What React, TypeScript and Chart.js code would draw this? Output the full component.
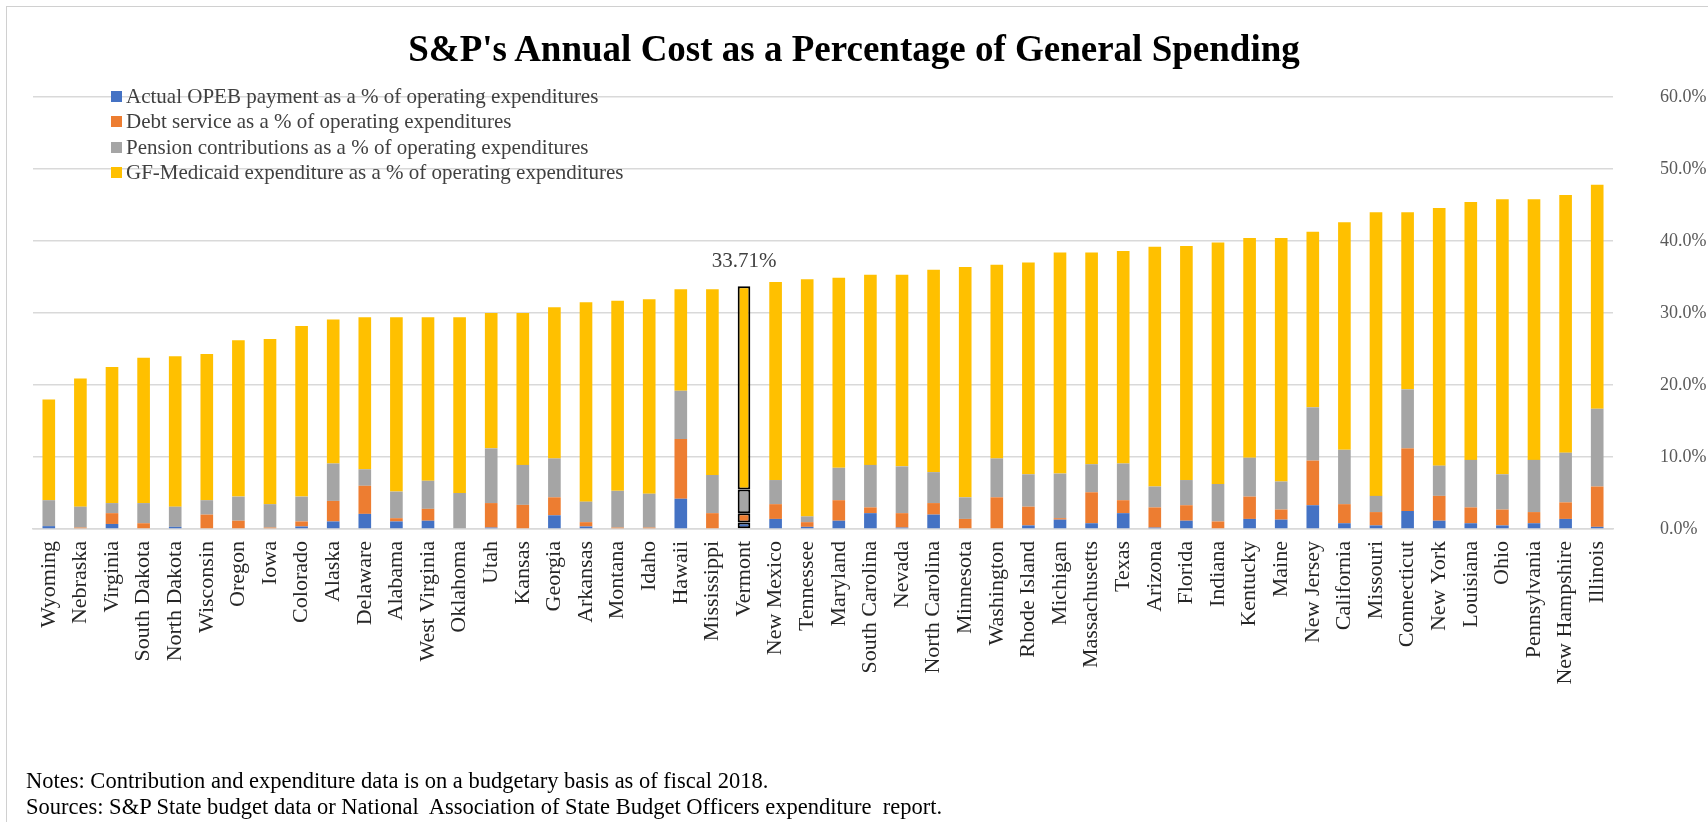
import React, { useEffect, useRef } from "react";
import { Chart, registerables } from "chart.js";

Chart.register(...registerables);

const TITLE = "S&P's Annual Cost as a Percentage of General Spending";

const STATES = [
  "Wyoming", "Nebraska", "Virginia", "South Dakota", "North Dakota", "Wisconsin", "Oregon", "Iowa",
  "Colorado", "Alaska", "Delaware", "Alabama", "West Virginia", "Oklahoma", "Utah", "Kansas",
  "Georgia", "Arkansas", "Montana", "Idaho", "Hawaii", "Mississippi", "Vermont", "New Mexico",
  "Tennessee", "Maryland", "South Carolina", "Nevada", "North Carolina", "Minnesota", "Washington",
  "Rhode Island", "Michigan", "Massachusetts", "Texas", "Arizona", "Florida", "Indiana", "Kentucky",
  "Maine", "New Jersey", "California", "Missouri", "Connecticut", "New York", "Louisiana", "Ohio",
  "Pennsylvania", "New Hampshire", "Illinois",
];

const OPEB = [
  0.4, 0, 0.7, 0, 0.3, 0, 0, 0, 0.35, 1.05, 2.1, 1.05, 1.15, 0, 0.2, 0,
  1.9, 0.35, 0, 0, 4.2, 0, 0.9, 1.4, 0.3, 1.15, 2.2, 0.2, 2.0, 0, 0,
  0.5, 1.3, 0.8, 2.2, 0.2, 1.15, 0, 1.4, 1.3, 3.3, 0.8, 0.5, 2.5, 1.15, 0.8, 0.5,
  0.8, 1.4, 0.3,
];

const DEBT = [
  0, 0.2, 1.5, 0.8, 0, 2.0, 1.15, 0.2, 0.7, 2.85, 3.9, 0.45, 1.65, 0, 3.4, 3.35,
  2.5, 0.6, 0.2, 0.2, 8.3, 2.2, 1.3, 2.05, 0.65, 2.85, 0.8, 2.0, 1.6, 1.4, 4.4,
  2.6, 0.2, 4.3, 1.8, 2.8, 2.15, 1.05, 3.1, 1.4, 6.2, 2.65, 1.85, 8.7, 3.45, 2.2, 2.2,
  1.55, 2.3, 5.6,
];

const PENSION = [
  3.6, 2.9, 1.4, 2.8, 2.8, 2.0, 3.35, 3.25, 3.45, 5.2, 2.3, 3.7, 3.9, 5.0, 7.6, 5.55,
  5.4, 2.85, 5.1, 4.7, 6.7, 5.3, 3.3, 3.35, 0.8, 4.5, 5.9, 6.5, 4.3, 3.0, 5.4,
  4.5, 6.2, 3.9, 5.1, 2.9, 3.5, 5.2, 5.4, 3.9, 7.4, 7.55, 2.25, 8.2, 4.2, 6.6, 4.9,
  7.25, 6.9, 10.8,
];

const MEDICAID = [
  14.0, 17.8, 18.9, 20.2, 20.9, 20.3, 21.7, 22.95, 23.7, 20.0, 21.1, 24.2, 22.7, 24.4, 18.8, 21.1,
  21.0, 27.7, 26.4, 27.0, 14.1, 25.8, 28.21, 27.5, 32.95, 26.4, 26.4, 26.6, 28.1, 32.0, 26.9,
  29.4, 30.7, 29.4, 29.5, 33.3, 32.5, 33.55, 30.5, 33.8, 24.4, 31.6, 39.4, 24.6, 35.8, 35.8, 38.2,
  36.2, 35.8, 31.1,
];

const SERIES_LABELS = [
  "Actual OPEB payment as a % of operating expenditures",
  "Debt service as a % of operating expenditures",
  "Pension contributions as a % of operating expenditures",
  "GF-Medicaid expenditure as a % of operating expenditures",
];
const SERIES_COLORS = ["#4472C4", "#ED7D31", "#A5A5A5", "#FFC000"];

const Y_MIN = 0;
const Y_MAX = 60;
const Y_STEP = 10;

const HIGHLIGHT_STATE = "Vermont";
const HIGHLIGHT_LABEL = "33.71%";

const NOTES = [
  "Notes: Contribution and expenditure data is on a budgetary basis as of fiscal 2018.",
  "Sources: S&P State budget data or National  Association of State Budget Officers expenditure  report.",
];

const W = 1708;
const H = 822;
const FONT = "'Liberation Serif', 'Times New Roman', Times, serif";

export default function App() {
  const canvasRef = useRef<HTMLCanvasElement | null>(null);

  useEffect(() => {
    document.body.style.margin = "0";
    const canvas = canvasRef.current;
    if (!canvas) return;
    const hi = STATES.indexOf(HIGHLIGHT_STATE);
    const seriesData = [OPEB, DEBT, PENSION, MEDICAID];

    const labelPlugin = {
      id: "highlightLabel",
      afterDatasetsDraw(chart: any) {
        const meta = chart.getDatasetMeta(3);
        const el = meta.data[hi];
        if (!el) return;
        const ctx = chart.ctx;
        ctx.save();
        ctx.font = `21px ${FONT}`;
        ctx.fillStyle = "#404040";
        ctx.textAlign = "center";
        ctx.textBaseline = "middle";
        ctx.fillText(HIGHLIGHT_LABEL, el.x, el.y - 25);
        ctx.restore();
      },
    };

    const chart = new Chart(canvas, {
      type: "bar",
      data: {
        labels: STATES,
        datasets: seriesData.map((d, i) => ({
          label: SERIES_LABELS[i],
          data: d,
          backgroundColor: SERIES_COLORS[i],
          borderColor: "#000000",
          borderWidth: (ctx: any) => (ctx.dataIndex === hi ? 2 : 0),
          borderSkipped: false,
          barPercentage: 0.4,
          categoryPercentage: 1.0,
        })),
      },
      options: {
        animation: false,
        responsive: false,
        maintainAspectRatio: false,
        layout: { padding: { left: 33, top: 97, right: 0, bottom: 0 } },
        plugins: {
          legend: { display: false },
          title: { display: false },
          tooltip: { enabled: false },
        },
        scales: {
          x: {
            stacked: true,
            grid: { display: false, drawTicks: false },
            border: { display: true, color: "#d9d9d9", width: 1.5 },
            ticks: {
              autoSkip: false,
              minRotation: 90,
              maxRotation: 90,
              padding: 12,
              color: "#262626",
              font: { family: FONT, size: 22 },
            },
            afterFit: (s: any) => {
              s.height = H - 529;
            },
          },
          y: {
            stacked: true,
            position: "right",
            min: Y_MIN,
            max: Y_MAX,
            grid: { color: "#d9d9d9", lineWidth: 1.5, drawTicks: false },
            border: { display: false },
            ticks: {
              stepSize: Y_STEP,
              padding: 47,
              color: "#595959",
              font: { family: FONT, size: 18 },
              callback: (v: any) => Number(v).toFixed(1) + "%",
            },
            afterFit: (s: any) => {
              s.width = W - 1613;
            },
          },
        },
      },
      plugins: [labelPlugin],
    } as any);

    return () => chart.destroy();
  }, []);

  return (
    <div style={{ position: "relative", width: W, height: H, background: "#fff", fontFamily: FONT, overflow: "hidden" }}>
      <canvas ref={canvasRef} width={W} height={H} style={{ position: "absolute", left: 0, top: 0, width: W, height: H }} />
      <div
        style={{
          position: "absolute",
          left: 6,
          top: 6,
          width: W - 6,
          height: H - 6,
          borderLeft: "1px solid #d0d0d0",
          borderTop: "1px solid #d0d0d0",
          pointerEvents: "none",
        }}
      />
      <div
        style={{
          position: "absolute",
          left: 0,
          width: W,
          top: 29,
          lineHeight: "40px",
          textAlign: "center",
          fontSize: 37,
          fontWeight: "bold",
          color: "#000",
          pointerEvents: "none",
        }}
      >
        {TITLE}
      </div>
      <div style={{ position: "absolute", left: 111, top: 84, pointerEvents: "none" }}>
        {SERIES_LABELS.map((l, i) => (
          <div key={l} style={{ display: "flex", alignItems: "center", height: 25.3, fontSize: 21, color: "#404040", whiteSpace: "nowrap" }}>
            <span style={{ display: "inline-block", width: 11, height: 11, background: SERIES_COLORS[i], marginRight: 4 }} />
            <span>{l}</span>
          </div>
        ))}
      </div>
      <div style={{ position: "absolute", left: 26, top: 768, pointerEvents: "none" }}>
        {NOTES.map((n) => (
          <div key={n} style={{ fontSize: 22.5, lineHeight: "26px", color: "#000", whiteSpace: "pre" }}>
            {n}
          </div>
        ))}
      </div>
    </div>
  );
}
